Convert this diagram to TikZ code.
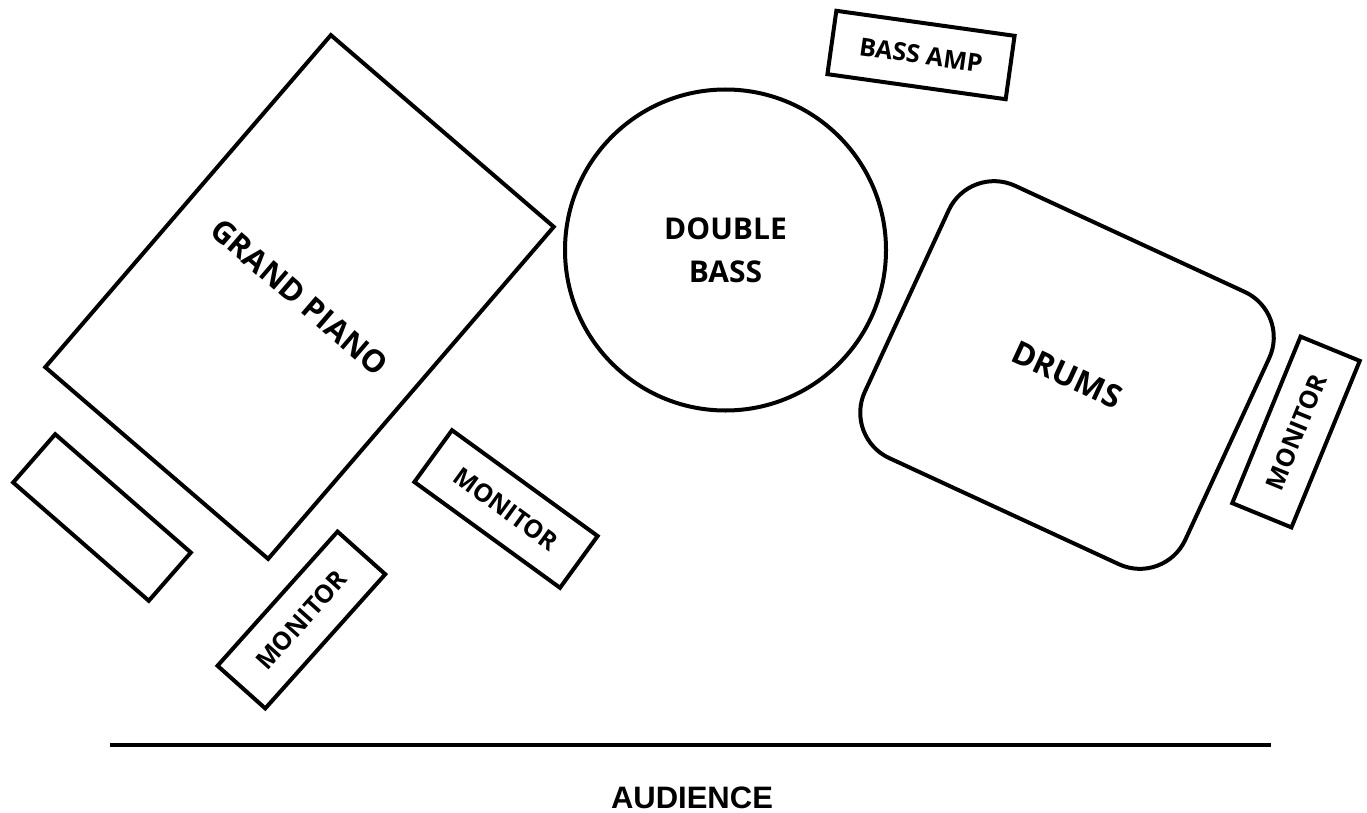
\documentclass[tikz,border=0pt]{standalone}
\usepackage{fontspec}
\setmainfont{Open Sans}
\newfontfamily\audiencefont{Liberation Sans}
\newcommand{\widthmonitor}{180pt}
\newcommand{\heightmonitor}{64pt}
\newcommand{\gear}{4pt}
\tikzset{
    common/.style={draw, line width=\gear, rectangle, inner sep=0pt},
    bigtext/.style={font=\fontsize{30}{43}\selectfont\bfseries, align=center},
    smalltext/.style={font=\fontsize{25}{28}\selectfont\bfseries},
    monitor/.style={common, smalltext, minimum width=\widthmonitor, minimum height=\heightmonitor},
    piano/.style={common, bigtext, font=\fontsize{31}{43}\selectfont\bfseries, minimum width=294pt, minimum height=438pt},
    bass/.style={common, bigtext, circle, minimum size=321pt},
    drums/.style={common, bigtext, font=\fontsize{32}{43}\selectfont\bfseries, rounded corners=50pt, minimum width=353pt, minimum height=300pt},
    stageline/.style={line width=\gear}
}
\begin{document}
\begin{tikzpicture}[x=1pt, y=-1pt]
    \useasboundingbox (0,0) rectangle (1367,813);

    % band
    \node[piano, rotate=-40.7] (piano) at (299.5,297) {GRAND PIANO};
    \node[bass] (bass) at (725.5,250) {DOUBLE\\BASS};
    \node[monitor, rotate=-8] (amp) at (921,55) {BASS AMP};
    \node[drums, rotate=-24.8] (drums) at (1067,375) {DRUMS};

    % monitors
    \node[monitor, rotate=-41.1] (mon0) at (102,517.5) {};
    \node[monitor, rotate=48.2] (mon1) at (301.4,620) {MONITOR};
    \node[monitor, rotate=-36] (mon2) at (506,509) {MONITOR};
    \node[monitor, rotate=67.7] (mon3) at (1296,432) {MONITOR};

    % front of stage
    \coordinate (edge west) at (110,745);
    \coordinate (edge east) at (1271,745);
    \draw[stageline] (edge west) -- (edge east);
    \node[font=\audiencefont\bfseries\fontsize{31}{34}\selectfont, anchor=base] (audience) at (692,808) {AUDIENCE};
\end{tikzpicture}
\end{document}
